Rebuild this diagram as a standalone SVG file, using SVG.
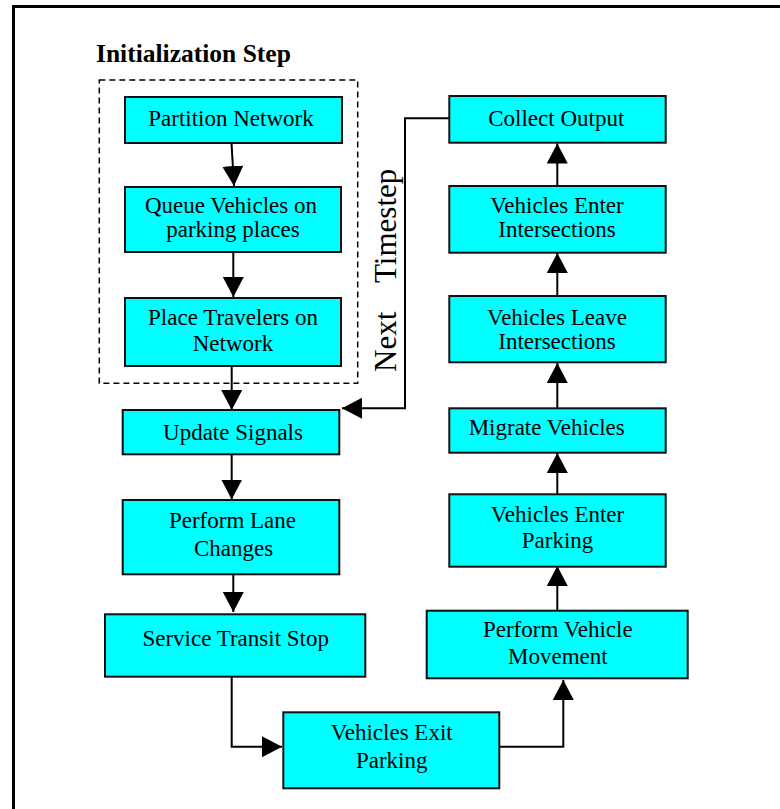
<svg xmlns="http://www.w3.org/2000/svg" width="780" height="809" viewBox="0 0 780 809">
<style>
.box{fill:#00FFFF;stroke:#111;stroke-width:2}
.t{font-family:"Liberation Serif","Times New Roman",serif;font-size:23px;fill:#000;text-anchor:middle}
.title{font-family:"Liberation Serif","Times New Roman",serif;font-size:25.5px;font-weight:bold;fill:#000}
.rot{font-family:"Liberation Serif","Times New Roman",serif;font-size:31px;fill:#000}
.c{fill:none;stroke:#000;stroke-width:2}
</style>
<defs>
<marker id="ah" markerUnits="userSpaceOnUse" markerWidth="21" markerHeight="22" refX="20" refY="10.5" orient="auto" viewBox="0 0 21 22">
<path d="M0,0 L20,10.5 L0,21 Z" fill="#000"/>
</marker>
</defs>
<rect width="780" height="809" fill="#fff"/>
<path d="M13.5,809 V6.5 H780" fill="none" stroke="#000" stroke-width="3"/>
<text class="title" x="96" y="62">Initialization Step</text>
<rect x="99.3" y="80" width="258.4" height="303.3" fill="none" stroke="#000" stroke-width="1.5" stroke-dasharray="6,4"/>
<g id="connectors">
<path class="c" d="M231.5,143 L234,186" marker-end="url(#ah)"/>
<path class="c" d="M233.3,252 V297" marker-end="url(#ah)"/>
<path class="c" d="M231.7,366 V410" marker-end="url(#ah)"/>
<path class="c" d="M231.7,454 V499.5" marker-end="url(#ah)"/>
<path class="c" d="M233.3,568 V612" marker-end="url(#ah)"/>
<path class="c" d="M231.7,677 V746.7 H282" marker-end="url(#ah)"/>
<path class="c" d="M495,746.7 H563.3 V680" marker-end="url(#ah)"/>
<path class="c" d="M557.3,610.7 V566" marker-end="url(#ah)"/>
<path class="c" d="M557.3,494.3 V453" marker-end="url(#ah)"/>
<path class="c" d="M557.3,408.3 V363" marker-end="url(#ah)"/>
<path class="c" d="M557.3,296 V253" marker-end="url(#ah)"/>
<path class="c" d="M557.3,186 V143.5" marker-end="url(#ah)"/>
<path class="c" d="M449.3,118.3 H405 V408.3 H342" marker-end="url(#ah)"/>
<text class="rot" transform="translate(396,372) rotate(-90)"><tspan x="0" y="0">Next</tspan><tspan x="89" y="0">Timestep</tspan></text>
</g>
<g id="partition"><rect class="box" x="125" y="97" width="217" height="46"/><text class="t" x="231" y="126">Partition Network</text></g>
<g id="queue"><rect class="box" x="125" y="187" width="216" height="65"/><text class="t" x="231" y="213.3">Queue Vehicles on</text><text class="t" x="233" y="236.7">parking places</text></g>
<g id="place"><rect class="box" x="125" y="298" width="216" height="68"/><text class="t" x="233" y="325">Place Travelers on</text><text class="t" x="233" y="351">Network</text></g>
<g id="update"><rect class="box" x="122.7" y="410" width="216.6" height="44.3"/><text class="t" x="233" y="440">Update Signals</text></g>
<g id="lane"><rect class="box" x="122.7" y="500" width="216.6" height="74.3"/><text class="t" x="232.5" y="527.7">Perform Lane</text><text class="t" x="233.5" y="555.7">Changes</text></g>
<g id="transit"><rect class="box" x="105" y="614.3" width="260.3" height="62.4"/><text class="t" x="235.7" y="646">Service Transit Stop</text></g>
<g id="exit"><rect class="box" x="283.3" y="712.3" width="216" height="76"/><text class="t" x="391.7" y="740">Vehicles Exit</text><text class="t" x="391.7" y="767.7">Parking</text></g>
<g id="movement"><rect class="box" x="426.7" y="610.7" width="261" height="67.6"/><text class="t" x="557.8" y="637.3">Perform Vehicle</text><text class="t" x="557.8" y="664">Movement</text></g>
<g id="enterparking"><rect class="box" x="449.3" y="494.3" width="216.4" height="72.4"/><text class="t" x="557.5" y="521.7">Vehicles Enter</text><text class="t" x="557.5" y="548.3">Parking</text></g>
<g id="migrate"><rect class="box" x="449.3" y="408.3" width="216.4" height="44.4"/><text class="t" x="546.7" y="435">Migrate Vehicles</text></g>
<g id="leave"><rect class="box" x="449.3" y="296" width="216.4" height="66.3"/><text class="t" x="557" y="325">Vehicles Leave</text><text class="t" x="557" y="349.3">Intersections</text></g>
<g id="enterint"><rect class="box" x="449.3" y="186" width="216.4" height="66.7"/><text class="t" x="557" y="213.3">Vehicles Enter</text><text class="t" x="557" y="237.3">Intersections</text></g>
<g id="collect"><rect class="box" x="449.3" y="96" width="216.4" height="46.7"/><text class="t" x="556.3" y="125.7">Collect Output</text></g>
</svg>
